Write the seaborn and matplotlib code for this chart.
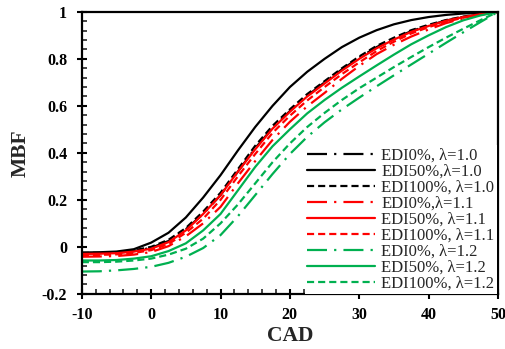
import matplotlib
matplotlib.use("Agg")
import matplotlib.pyplot as plt
import seaborn as sns
import pandas as pd
from matplotlib.ticker import MultipleLocator, FixedLocator, FixedFormatter

cad = [-10, -7.5, -5, -2.5, 0, 2.5, 5, 7.5, 10, 12.5, 15, 17.5, 20,
       22.5, 25, 27.5, 30, 32.5, 35, 37.5, 40, 42.5, 45, 47.5, 50]

edi0_l10   = [-0.028, -0.027, -0.025, -0.018, -0.004, 0.025, 0.075, 0.140, 0.220, 0.320, 0.420, 0.505, 0.578,
              0.643, 0.700, 0.755, 0.805, 0.850, 0.886, 0.918, 0.942, 0.963, 0.979, 0.990, 1.0]
edi50_l10  = [-0.024, -0.023, -0.020, -0.010, 0.018, 0.060, 0.125, 0.210, 0.305, 0.410, 0.510, 0.600, 0.680,
              0.745, 0.800, 0.850, 0.890, 0.922, 0.947, 0.965, 0.978, 0.987, 0.993, 0.997, 1.0]
edi100_l10 = [-0.026, -0.025, -0.023, -0.015, 0.000, 0.030, 0.080, 0.150, 0.230, 0.330, 0.430, 0.515, 0.585,
              0.650, 0.705, 0.760, 0.810, 0.855, 0.890, 0.922, 0.945, 0.965, 0.980, 0.991, 1.0]
edi0_l11   = [-0.042, -0.041, -0.039, -0.033, -0.022, 0.003, 0.045, 0.100, 0.170, 0.270, 0.365, 0.455, 0.532,
              0.598, 0.655, 0.715, 0.770, 0.820, 0.860, 0.895, 0.925, 0.952, 0.972, 0.988, 1.0]
edi50_l11  = [-0.030, -0.029, -0.027, -0.020, -0.008, 0.020, 0.070, 0.140, 0.220, 0.320, 0.415, 0.503, 0.575,
              0.640, 0.695, 0.750, 0.800, 0.845, 0.882, 0.915, 0.940, 0.962, 0.978, 0.990, 1.0]
edi100_l11 = [-0.035, -0.034, -0.032, -0.026, -0.014, 0.012, 0.060, 0.120, 0.200, 0.300, 0.395, 0.485, 0.558,
              0.623, 0.680, 0.735, 0.785, 0.833, 0.873, 0.908, 0.935, 0.958, 0.975, 0.988, 1.0]
edi0_l12   = [-0.105, -0.104, -0.100, -0.094, -0.085, -0.068, -0.042, -0.005, 0.050, 0.130, 0.220, 0.310, 0.395,
              0.468, 0.530, 0.585, 0.635, 0.683, 0.730, 0.776, 0.822, 0.868, 0.913, 0.957, 1.0]
edi50_l12  = [-0.058, -0.058, -0.056, -0.050, -0.040, -0.018, 0.015, 0.070, 0.140, 0.240, 0.340, 0.428, 0.500,
              0.568, 0.625, 0.677, 0.725, 0.772, 0.818, 0.862, 0.900, 0.935, 0.964, 0.985, 1.0]
edi100_l12 = [-0.065, -0.065, -0.063, -0.058, -0.050, -0.033, -0.008, 0.035, 0.100, 0.180, 0.270, 0.360, 0.440,
              0.510, 0.570, 0.625, 0.675, 0.720, 0.765, 0.808, 0.850, 0.890, 0.928, 0.965, 1.0]

labels = ["EDI0%, λ=1.0", "EDI50%,λ=1.0", "EDI100%, λ=1.0",
          "EDI0%,λ=1.1", "EDI50%, λ=1.1", "EDI100%, λ=1.1",
          "EDI0%, λ=1.2", "EDI50%, λ=1.2", "EDI100%, λ=1.2"]
series = [edi0_l10, edi50_l10, edi100_l10, edi0_l11, edi50_l11, edi100_l11,
          edi0_l12, edi50_l12, edi100_l12]

colors = ["black"] * 3 + ["#FF0000"] * 3 + ["#00B050"] * 3
dashdot = (0, (9, 3.2, 1, 3.2))
dashed = (0, (3.2, 1.8))
styles = [dashdot, "-", dashed] * 3

sns.set_theme(style="white")
plt.rcParams["font.family"] = ["Liberation Serif", "DejaVu Serif"]
plt.rcParams["axes.unicode_minus"] = False

fig = plt.figure(figsize=(5.05, 3.49), dpi=100)
ax = fig.add_axes([0.162, 0.158, 0.824, 0.808])

for lab, vals, c, ls in zip(labels, series, colors, styles):
    df = pd.DataFrame({"CAD": cad, "MBF": vals})
    sns.lineplot(data=df, x="CAD", y="MBF", ax=ax, color=c, linestyle=ls,
                 linewidth=1.6, label=lab)

ax.set_xlim(-10, 50)
ax.set_ylim(-0.2, 1.0)
ax.xaxis.set_major_locator(MultipleLocator(10))
ax.xaxis.set_minor_locator(MultipleLocator(2))
yt = [-0.2, 0, 0.2, 0.4, 0.6, 0.8, 1.0]
ax.yaxis.set_major_locator(FixedLocator(yt))
ax.yaxis.set_major_formatter(FixedFormatter(["-0.2", "0", "0.2", "0.4", "0.6", "0.8", "1"]))
ax.yaxis.set_minor_locator(MultipleLocator(0.04))

ax.tick_params(axis="both", which="major", direction="inout", length=7, width=1.5,
               labelsize=11.5, colors="black", bottom=True, left=True, top=False, right=False)
ax.tick_params(axis="x", which="major", pad=6)
ax.tick_params(axis="y", which="major", pad=7)
ax.tick_params(axis="both", which="minor", direction="in", length=3.5, width=1.2,
               bottom=True, left=True, top=False, right=False)
for t in ax.get_xticklabels() + ax.get_yticklabels():
    t.set_fontweight("bold")

for s in ax.spines.values():
    s.set_color("black")
    s.set_linewidth(1.6)

ax.set_xlabel("CAD", fontsize=15.5, fontweight="bold", labelpad=2)
ax.set_ylabel("MBF", fontsize=15.5, fontweight="bold", labelpad=8)

leg = ax.legend(loc="lower right", bbox_to_anchor=(0.998, 0.0), fontsize=12,
                frameon=True, fancybox=False, edgecolor="none", facecolor="white",
                framealpha=1, handlelength=4.1, handletextpad=0.36, labelspacing=0.0,
                borderpad=0.15, borderaxespad=0)

fig.savefig("out.png", dpi=100)
